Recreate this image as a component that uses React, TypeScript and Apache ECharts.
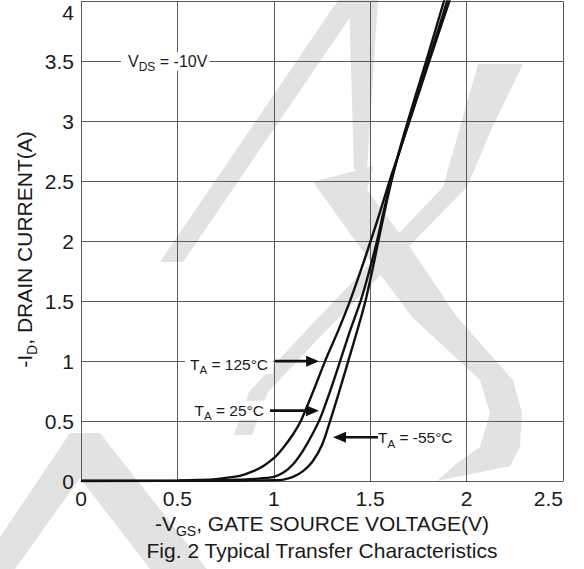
import React, { useEffect, useRef } from 'react';
import * as echarts from 'echarts';

// ---- axis ranges ----
const X_MIN = 0;
const X_MAX = 2.5;
const X_STEP = 0.5;
const Y_MIN = 0;
const Y_MAX = 4;
const Y_STEP = 0.5;

// ---- series: [-VGS (V), -ID (A)] ----
const curveT125: [number, number][] = [
  [0, 0], [0.3, 0], [0.5, 0.003], [0.6, 0.008], [0.7, 0.016], [0.8, 0.036], [0.85, 0.056],
  [0.9, 0.086], [0.95, 0.13], [1.0, 0.19], [1.05, 0.28], [1.1, 0.39], [1.14, 0.5], [1.2, 0.73],
  [1.266, 1.0], [1.333, 1.25], [1.395, 1.5], [1.45, 1.75], [1.502, 2.0], [1.552, 2.25],
  [1.60, 2.5], [1.652, 2.75], [1.703, 3.0], [1.755, 3.25], [1.806, 3.5], [1.858, 3.75],
  [1.91, 4.0], [1.93, 4.1],
];
const curveT25: [number, number][] = [
  [0, 0], [0.5, 0.002], [0.7, 0.006], [0.8, 0.01], [0.9, 0.018], [1.0, 0.035], [1.05, 0.07],
  [1.1, 0.14], [1.15, 0.25], [1.2, 0.39], [1.24, 0.52], [1.29, 0.74], [1.34, 0.98], [1.395, 1.25],
  [1.45, 1.5], [1.495, 1.75], [1.535, 2.0], [1.57, 2.25], [1.607, 2.5], [1.652, 2.75],
  [1.702, 3.0], [1.752, 3.25], [1.80, 3.5], [1.85, 3.75], [1.898, 4.0], [1.918, 4.1],
];
const curveTm55: [number, number][] = [
  [0, 0], [0.8, 0.002], [1.0, 0.006], [1.05, 0.012], [1.1, 0.035], [1.15, 0.08], [1.2, 0.16],
  [1.25, 0.3], [1.292, 0.5], [1.34, 0.75], [1.386, 1.0], [1.432, 1.25], [1.475, 1.5],
  [1.51, 1.75], [1.542, 2.0], [1.575, 2.25], [1.61, 2.5], [1.65, 2.75], [1.695, 3.0],
  [1.742, 3.25], [1.79, 3.5], [1.836, 3.75], [1.882, 4.0], [1.9, 4.1],
];

// ---- annotations (data coordinates) ----
const tempLabels = ['125°C', '25°C', '-55°C'];
const tempLabelAnchors: [number, number][] = [[0.996, 0.972], [0.975, 0.59], [1.53, 0.36]];
const tempLabelAlign = ['right', 'right', 'left'];
const arrowTails: [number, number][] = [[1.006, 1.0], [0.98, 0.587], [1.54, 0.365]];
const arrowTips: [number, number][] = [[1.235, 1.0], [1.234, 0.587], [1.307, 0.365]];
const vdsAnchor: [number, number] = [0.2075, 3.5];

// ---- decoration (background watermark, pixel layout) ----
const watermarkShapes: number[][][] = [
  [[338, 0], [362, 0], [183, 262], [160, 262]],
  [[349, 0], [378, 0], [367, 170], [354, 170]],
  [[313, 182], [373, 166], [367, 190], [412, 250], [457, 317], [513, 380], [522, 413], [520, 447],
   [510, 466], [437, 481], [457, 463], [480, 447], [490, 413], [480, 380], [412, 317], [362, 250]],
  [[478, 64], [523, 64], [492, 128], [467, 187], [320, 337], [268, 392], [252, 435], [234, 435],
   [249, 392], [300, 337], [443, 187]],
  [[70, 433], [100, 433], [207, 569], [150, 569], [80, 478], [15, 569], [0, 569], [0, 537]],
];

const FONT = "'Liberation Sans', Arial, Helvetica, sans-serif";
const INK = '#1a1a1a';
const GRID = '#5a5a5a';
const WM = '#e2e2e2';

const richBig = {
  m: { fontSize: 21, fontFamily: FONT, fill: INK, lineHeight: 22, verticalAlign: 'middle' },
  s: { fontSize: 14, fontFamily: FONT, fill: INK, lineHeight: 14, verticalAlign: 'middle', padding: [15, 0, 0, 0] },
};
const richSmall = {
  m: { fontSize: 15.5, fontFamily: FONT, fill: INK, lineHeight: 17, verticalAlign: 'middle' },
  s: { fontSize: 11.5, fontFamily: FONT, fill: INK, lineHeight: 12, verticalAlign: 'middle', padding: [12, 0, 0, 0] },
};
const richVds = {
  m: { fontSize: 16, fontFamily: FONT, fill: INK, lineHeight: 17, verticalAlign: 'middle' },
  s: { fontSize: 12, fontFamily: FONT, fill: INK, lineHeight: 12, verticalAlign: 'middle', padding: [11, 0, 0, 0] },
};

function richText(parts: [string, string][]) {
  return parts.map(([k, t]) => `{${k}|${t}}`).join('');
}

export default function App() {
  const ref = useRef<HTMLDivElement>(null);

  useEffect(() => {
    if (!ref.current) return;
    const chart = echarts.init(ref.current, undefined, { renderer: 'svg' });

    const lineSeries = (name: string, data: [number, number][]) => ({
      name,
      type: 'line',
      data,
      showSymbol: false,
      symbol: 'none',
      smooth: 0.3,
      clip: true,
      z: 4,
      lineStyle: { color: '#111', width: 2.4 },
    });

    chart.setOption({
      animation: false,
      backgroundColor: '#ffffff',
      grid: { left: 81, right: 21, top: 1.5, bottom: 88, containLabel: false, outerBoundsMode: 'none' },
      xAxis: {
        type: 'value',
        min: X_MIN,
        max: X_MAX,
        interval: X_STEP,
        z: 3,
        axisLine: { show: true, onZero: false, lineStyle: { color: GRID, width: 1 } },
        axisTick: { show: false },
        splitLine: { show: true, lineStyle: { color: GRID, width: 1 } },
        axisLabel: {
          fontSize: 21, fontFamily: FONT, color: INK, margin: 7,
          alignMaxLabel: 'right',
        },
      },
      yAxis: {
        type: 'value',
        min: Y_MIN,
        max: Y_MAX,
        interval: Y_STEP,
        z: 3,
        axisLine: { show: true, onZero: false, lineStyle: { color: GRID, width: 1 } },
        axisTick: { show: false },
        splitLine: { show: true, lineStyle: { color: GRID, width: 1 } },
        axisLabel: {
          fontSize: 21, fontFamily: FONT, color: INK, margin: 7,
          verticalAlignMaxLabel: 'top',
        },
      },
      series: [
        lineSeries('TA = 125°C', curveT125),
        lineSeries('TA = 25°C', curveT25),
        lineSeries('TA = -55°C', curveTm55),
      ],
    });

    const px = (p: [number, number]) => chart.convertToPixel({ gridIndex: 0 }, p) as number[];
    const elements: any[] = [];

    watermarkShapes.forEach((pts) => {
      elements.push({ type: 'polygon', shape: { points: pts }, style: { fill: WM }, z: 1, silent: true });
    });

    // V_DS annotation
    const v = px(vdsAnchor);
    elements.push({
      type: 'text', x: v[0], y: v[1], z: 10,
      style: {
        text: richText([['m', 'V'], ['s', 'DS'], ['m', ' = -10V']]),
        rich: richVds, align: 'left', verticalAlign: 'middle',
        backgroundColor: '#ffffff', padding: [1, 2, 1, 7],
      },
    });

    // temperature labels & arrows
    tempLabels.forEach((lab, i) => {
      const a = px(tempLabelAnchors[i]);
      const align = tempLabelAlign[i];
      elements.push({
        type: 'text', x: a[0], y: a[1], z: 10,
        style: {
          text: richText([['m', 'T'], ['s', 'A'], ['m', ` = ${lab}`]]),
          rich: richSmall, align, verticalAlign: 'middle',
          backgroundColor: '#ffffff',
          padding: align === 'right' ? [1, 5, 1, 5] : [1, 3, 1, 2],
        },
      });
      const t = px(arrowTails[i]);
      const h = px(arrowTips[i]);
      const dx = h[0] - t[0];
      const dy = h[1] - t[1];
      const len = Math.sqrt(dx * dx + dy * dy) || 1;
      const ux = dx / len;
      const uy = dy / len;
      const headL = 13;
      const headW = 5.5;
      const bx = h[0] - ux * headL;
      const by = h[1] - uy * headL;
      elements.push({
        type: 'line', z: 11,
        shape: { x1: t[0], y1: t[1], x2: bx + ux * 1, y2: by + uy * 1 },
        style: { stroke: '#111', lineWidth: 2.6 },
      });
      elements.push({
        type: 'polygon', z: 11,
        shape: { points: [[h[0], h[1]], [bx - uy * headW, by + ux * headW], [bx + uy * headW, by - ux * headW]] },
        style: { fill: '#111' },
      });
    });

    // axis titles and figure caption
    const xc = px([(X_MIN + X_MAX) / 2, Y_MIN]);
    elements.push({
      type: 'text', x: xc[0], y: 523, z: 10,
      style: {
        text: richText([['m', '-V'], ['s', 'GS'], ['m', ', GATE SOURCE VOLTAGE(V)']]),
        rich: richBig, align: 'center', verticalAlign: 'middle',
      },
    });
    elements.push({
      type: 'text', x: 24, y: 249.5, rotation: Math.PI / 2, z: 10,
      style: {
        text: richText([['m', '-I'], ['s', 'D'], ['m', ', DRAIN CURRENT(A)']]),
        rich: richBig, align: 'center', verticalAlign: 'middle',
      },
    });
    elements.push({
      type: 'text', x: xc[0], y: 550, z: 10,
      style: {
        text: 'Fig. 2 Typical Transfer Characteristics',
        fontSize: 21, fontFamily: FONT, fill: INK, align: 'center', verticalAlign: 'middle',
      },
    });

    chart.setOption({ graphic: { elements } });

    return () => chart.dispose();
  }, []);

  return (
    <div
      ref={ref}
      style={{ position: 'fixed', left: 0, top: 0, width: 584, height: 569, background: '#fff' }}
    />
  );
}
